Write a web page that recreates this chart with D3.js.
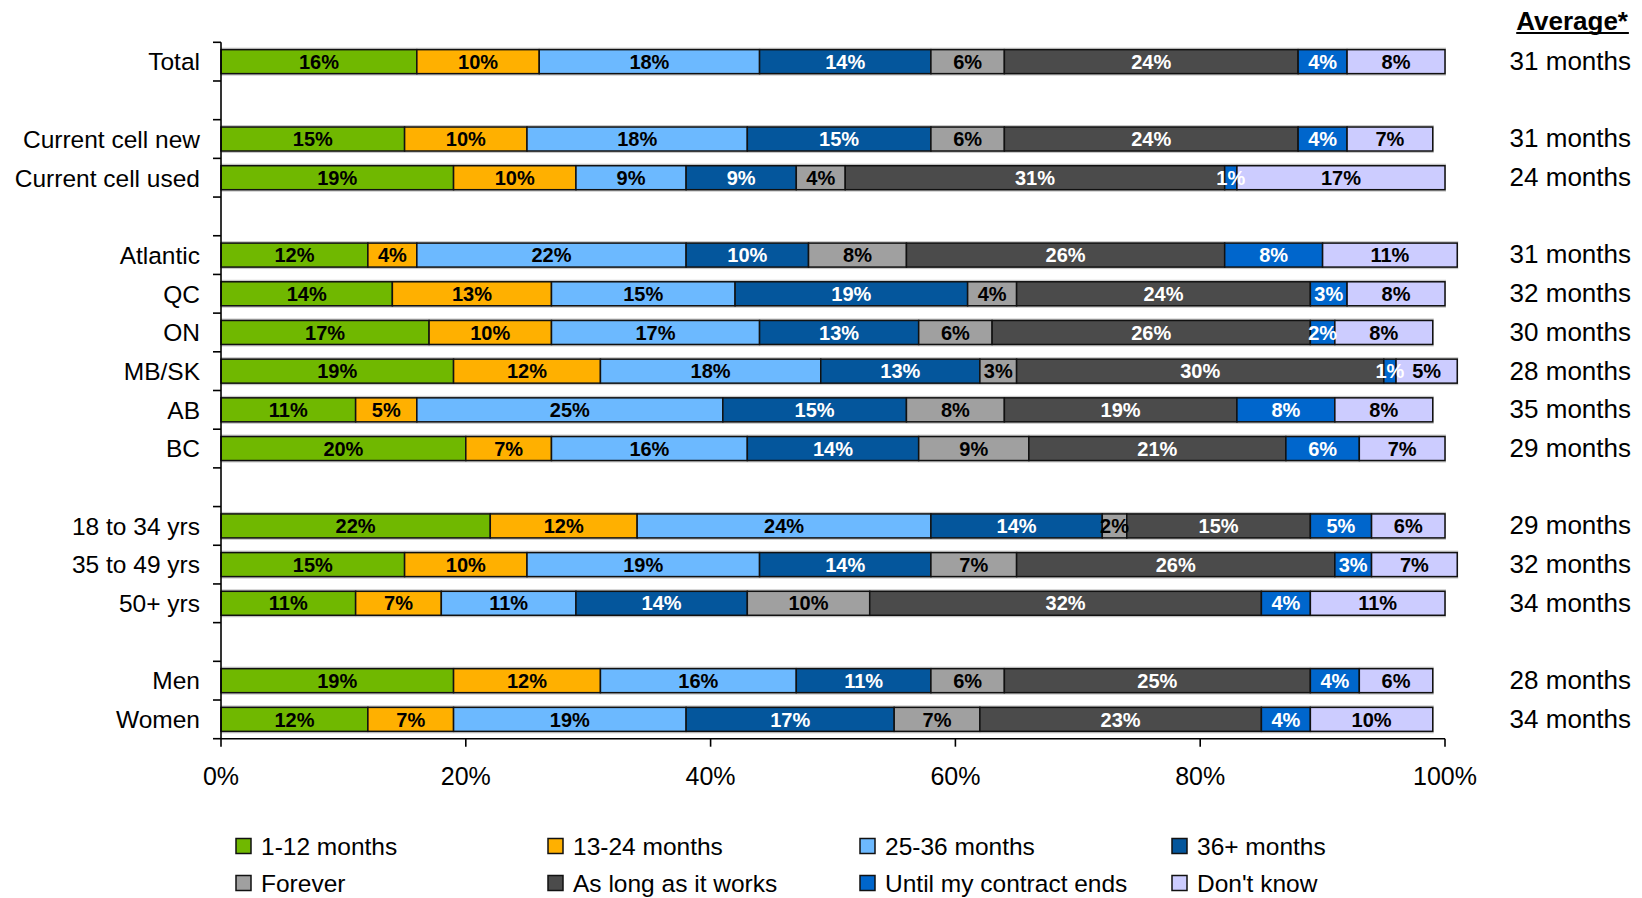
<!DOCTYPE html>
<html>
<head>
<meta charset="utf-8">
<script src="https://cdn.jsdelivr.net/npm/d3@7"></script>
<style>
  html, body { margin: 0; padding: 0; background: #fff; }
  svg { display: block; }
  text { font-family: "Liberation Sans", Arial, sans-serif; }
</style>
</head>
<body>
<svg id="chart" width="1642" height="898"></svg>
<script>
// ---------- data ----------
const categories = ["Total", "", "Current cell new", "Current cell used", "",
  "Atlantic", "QC", "ON", "MB/SK", "AB", "BC", "",
  "18 to 34 yrs", "35 to 49 yrs", "50+ yrs", "", "Men", "Women"];

const seriesNames = ["1-12 months", "13-24 months", "25-36 months", "36+ months",
  "Forever", "As long as it works", "Until my contract ends", "Don't know"];

const s1to12   = [16, null, 15, 19, null, 12, 14, 17, 19, 11, 20, null, 22, 15, 11, null, 19, 12];
const s13to24  = [10, null, 10, 10, null,  4, 13, 10, 12,  5,  7, null, 12, 10,  7, null, 12,  7];
const s25to36  = [18, null, 18,  9, null, 22, 15, 17, 18, 25, 16, null, 24, 19, 11, null, 16, 19];
const s36plus  = [14, null, 15,  9, null, 10, 19, 13, 13, 15, 14, null, 14, 14, 14, null, 11, 17];
const sForever = [ 6, null,  6,  4, null,  8,  4,  6,  3,  8,  9, null,  2,  7, 10, null,  6,  7];
const sWorks   = [24, null, 24, 31, null, 26, 24, 26, 30, 19, 21, null, 15, 26, 32, null, 25, 23];
const sContract= [ 4, null,  4,  1, null,  8,  3,  2,  1,  8,  6, null,  5,  3,  4, null,  4,  4];
const sDontKnow= [ 8, null,  7, 17, null, 11,  8,  8,  5,  8,  7, null,  6,  7, 11, null,  6, 10];

const averages = ["31 months", null, "31 months", "24 months", null,
  "31 months", "32 months", "30 months", "28 months", "35 months", "29 months", null,
  "29 months", "32 months", "34 months", null, "28 months", "34 months"];

const xTicks = [0, 20, 40, 60, 80, 100];

const colors = ["#70b800", "#ffb000", "#6cb9ff", "#04569c", "#a0a0a0", "#4b4b4b", "#0066cc", "#ccccff"];
const labelColors = ["#000", "#000", "#000", "#fff", "#000", "#fff", "#fff", "#000"];

const seriesValues = [s1to12, s13to24, s25to36, s36plus, sForever, sWorks, sContract, sDontKnow];

// ---------- layout ----------
const svg = d3.select("#chart");
const plotLeft = 221, plotRight = 1445, plotTop = 42.3, plotBottom = 738.7;

const rowKeys = categories.map((c, i) => i);
const y = d3.scaleBand().domain(rowKeys).range([plotTop, plotBottom])
  .paddingInner(0.38).paddingOuter(0.19);
const x = d3.scaleLinear().domain([0, 100]).range([plotLeft, plotRight]);

// build stacked segments
const segments = [];
categories.forEach((cat, r) => {
  if (!cat) return;
  let cum = 0;
  seriesValues.forEach((vals, s) => {
    const v = vals[r];
    if (v == null) return;
    segments.push({ r, s, x0: cum, x1: cum + v, v });
    cum += v;
  });
});

// bar shadows
const rowsWithBars = rowKeys.filter(r => categories[r]);
svg.append("g").selectAll("rect")
  .data(rowsWithBars)
  .join("rect")
  .attr("x", plotLeft)
  .attr("y", r => y(r) - 2)
  .attr("width", r => x(d3.sum(seriesValues, v => v[r])) - plotLeft + 1)
  .attr("height", y.bandwidth() + 4)
  .attr("fill", "#c8c8c8");

// segments
svg.append("g").selectAll("rect")
  .data(segments)
  .join("rect")
  .attr("x", d => x(d.x0))
  .attr("y", d => y(d.r))
  .attr("width", d => x(d.x1) - x(d.x0))
  .attr("height", y.bandwidth())
  .attr("fill", d => colors[d.s])
  .attr("stroke", "#111")
  .attr("stroke-width", 1.5);

// segment labels
svg.append("g").selectAll("text")
  .data(segments)
  .join("text")
  .attr("x", d => (x(d.x0) + x(d.x1)) / 2)
  .attr("y", d => y(d.r) + y.bandwidth() / 2)
  .attr("dy", "0.36em")
  .attr("text-anchor", "middle")
  .attr("font-size", 20)
  .attr("font-weight", "bold")
  .attr("fill", d => labelColors[d.s])
  .text(d => d.v + "%");

// y axis
const axisG = svg.append("g").attr("stroke", "#000").attr("stroke-width", 1.6);
axisG.append("line").attr("x1", plotLeft).attr("x2", plotLeft).attr("y1", plotTop).attr("y2", plotBottom);
d3.range(categories.length + 1).forEach(i => {
  const yy = plotTop + i * y.step();
  axisG.append("line").attr("x1", plotLeft - 8).attr("x2", plotLeft).attr("y1", yy).attr("y2", yy);
});
// x axis
axisG.append("line").attr("x1", plotLeft).attr("x2", plotRight).attr("y1", plotBottom).attr("y2", plotBottom);
axisG.selectAll("line.xt").data(xTicks).join("line").attr("class", "xt")
  .attr("x1", d => x(d)).attr("x2", d => x(d))
  .attr("y1", plotBottom).attr("y2", plotBottom + 8);

svg.append("g").selectAll("text").data(xTicks).join("text")
  .attr("x", d => x(d)).attr("y", 785)
  .attr("text-anchor", "middle")
  .attr("font-size", 25)
  .attr("fill", "#000")
  .text(d => d + "%");

// category labels
svg.append("g").selectAll("text")
  .data(rowsWithBars)
  .join("text")
  .attr("x", 200)
  .attr("y", r => y(r) + y.bandwidth() / 2)
  .attr("dy", "0.36em")
  .attr("text-anchor", "end")
  .attr("font-size", 24.5)
  .attr("fill", "#000")
  .text(r => categories[r]);

// averages
const avgHead = svg.append("text")
  .attr("x", 1628).attr("y", 29.5)
  .attr("text-anchor", "end")
  .attr("font-size", 26).attr("font-weight", "bold")
  .text("Average*");
const bb = avgHead.node().getBBox();
svg.append("line").attr("x1", bb.x).attr("x2", bb.x + bb.width)
  .attr("y1", 33).attr("y2", 33).attr("stroke", "#000").attr("stroke-width", 2);

svg.append("g").selectAll("text")
  .data(rowKeys.filter(r => averages[r]))
  .join("text")
  .attr("x", 1631)
  .attr("y", r => y(r) + y.bandwidth() / 2 - 1)
  .attr("dy", "0.36em")
  .attr("text-anchor", "end")
  .attr("font-size", 26)
  .attr("fill", "#000")
  .text(r => averages[r]);

// legend
const leg = svg.append("g").selectAll("g").data(seriesNames).join("g")
  .attr("transform", (d, i) => `translate(${236 + (i % 4) * 312},${i < 4 ? 846 : 883})`);
leg.append("rect").attr("x", 0).attr("y", -7.5).attr("width", 15).attr("height", 15)
  .attr("fill", (d, i) => colors[i]).attr("stroke", "#111").attr("stroke-width", 1.5);
leg.append("text").attr("x", 25).attr("y", 0).attr("dy", "0.36em")
  .attr("font-size", 24.5).attr("fill", "#000").text(d => d);
</script>
</body>
</html>
